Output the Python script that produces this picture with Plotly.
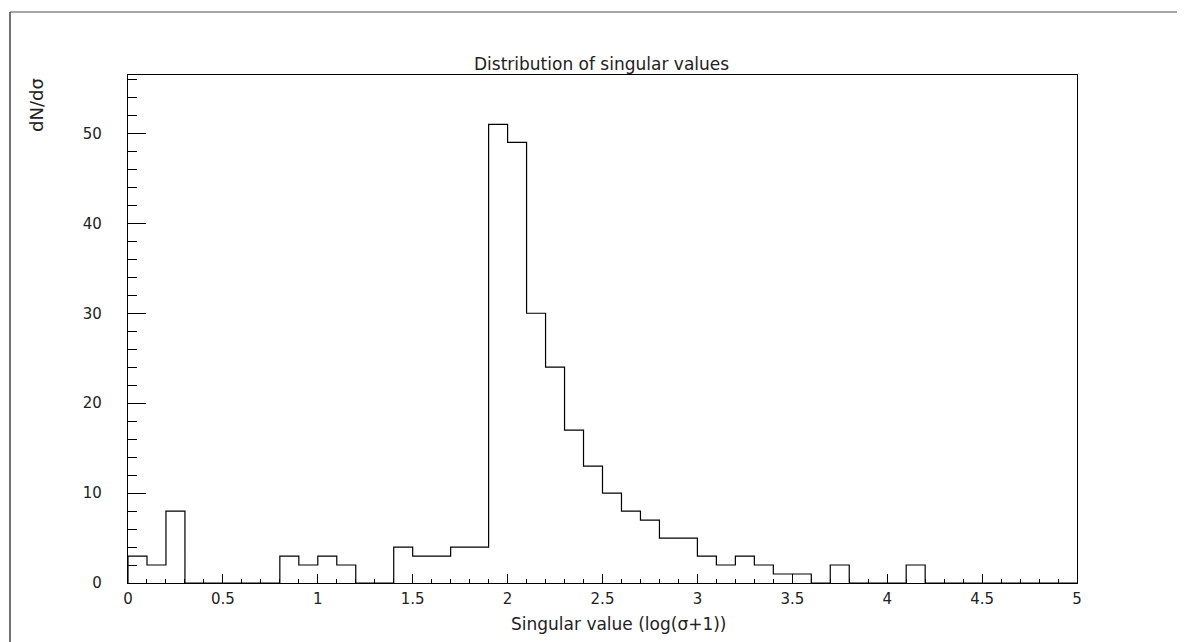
import numpy as np
import plotly.graph_objects as go

# ---- data ----
bin_low = 0.0
bin_high = 5.0
n_bins = 50
counts = [3, 2, 8, 0, 0, 0, 0, 0, 3, 2,
          3, 2, 0, 0, 4, 3, 3, 4, 4, 51,
          49, 30, 24, 17, 13, 10, 8, 7, 5, 5,
          3, 2, 3, 2, 1, 1, 0, 2, 0, 0,
          0, 2, 0, 0, 0, 0, 0, 0, 0, 0]
title_text = "Distribution of singular values"
x_title = "Singular value (log(σ+1))"
y_title = "dN/dσ"

# ---- step outline built from the bins ----
edges = np.linspace(bin_low, bin_high, n_bins + 1)
xs = [edges[0]] + list(edges) + [edges[-1]]
ys = [0] + list(counts) + [counts[-1], 0]

OFF = 8  # page body margin
W, H = 1185 - OFF, 642 - OFF
L, R, T, B = 128 - OFF, 1077 - OFF, 75 - OFF, 583 - OFF

def px(x):
    return (x - OFF - L) / (R - L)

def py(y):
    return (B - (y - OFF)) / (B - T)

FONT = "DejaVu Sans"
TXT = "#222"

fig = go.Figure()
fig.add_trace(go.Scatter(x=xs, y=ys, mode="lines", line=dict(color="black", width=1.2, shape="hv"),
                         hoverinfo="skip", showlegend=False))

fig.update_layout(
    width=W, height=H,
    margin=dict(l=L, r=W - R, t=T, b=H - B),
    paper_bgcolor="white", plot_bgcolor="white",
    showlegend=False,
    font=dict(family=FONT, size=14, color=TXT),
)
fig.update_xaxes(range=[bin_low, bin_high], showgrid=False, zeroline=False,
                 showline=True, linecolor="black", linewidth=1.2, mirror=True,
                 ticks="inside", tickcolor="black", ticklen=9, tickwidth=1,
                 tick0=0, dtick=0.5,
                 minor=dict(ticks="inside", dtick=0.1, ticklen=4, tickcolor="black", tickwidth=1),
                 ticklabelstandoff=2,
                 tickfont=dict(family=FONT, size=15, color=TXT))
fig.update_yaxes(range=[0, 56.5], showgrid=False, zeroline=False,
                 showline=True, linecolor="black", linewidth=1.2, mirror=True,
                 ticks="inside", tickcolor="black", ticklen=18, tickwidth=1,
                 tick0=0, dtick=10,
                 minor=dict(ticks="inside", dtick=2, ticklen=9, tickcolor="black", tickwidth=1),
                 ticklabelstandoff=22,
                 tickfont=dict(family=FONT, size=15, color=TXT))

# outer frame (top and left edges visible)
fig.add_shape(type="line", xref="paper", yref="paper", x0=px(10), x1=px(1200), y0=py(12), y1=py(12),
              line=dict(color="#888", width=1.5))
fig.add_shape(type="line", xref="paper", yref="paper", x0=px(10), x1=px(10), y0=py(12), y1=py(660),
              line=dict(color="#444", width=1.5))

fig.add_annotation(text=title_text, xref="paper", yref="paper", x=px(601), y=py(64),
                   showarrow=False, xanchor="center", yanchor="middle",
                   font=dict(family=FONT, size=17, color=TXT))
fig.add_annotation(text=x_title, xref="paper", yref="paper", x=px(619), y=py(624),
                   showarrow=False, xanchor="center", yanchor="middle",
                   font=dict(family=FONT, size=17, color=TXT))
fig.add_annotation(text=y_title, xref="paper", yref="paper", x=px(36), y=py(76),
                   showarrow=False, xanchor="center", yanchor="top", textangle=-90,
                   font=dict(family=FONT, size=18, color=TXT))

fig.write_html("out.html")
